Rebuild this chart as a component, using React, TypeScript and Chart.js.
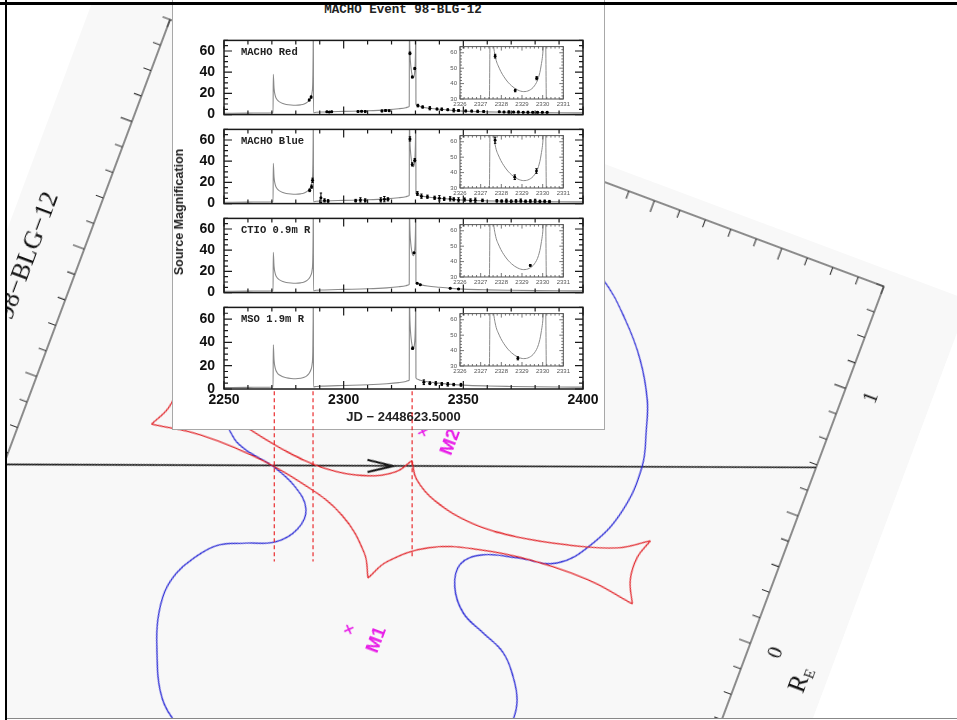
import React, { useEffect, useRef } from "react";
import { Chart, registerables } from "chart.js";

Chart.register(...registerables);

// ---------------- lens-plane data (units of R_E, binary frame) ----------------
const CAUSTIC_UPPER_RIGHT = [[0, 0.193], [0.04, 0.135], [0.13, 0.085], [0.29, 0.055], [0.46, 0.066], [0.643, 0.103], [0.819, 0.157], [0.924, 0.224]];
const CAUSTIC_OUTER_RIGHT = [[0.924, 0.224], [0.9, 0.15], [0.905, 0.064], [0.943, -0.016]];
const CAUSTIC_LOWER_RIGHT = [[0.943, -0.016], [0.76, 0.01], [0.55, 0.005], [0.34, -0.028], [0.17, -0.085], [0.045, -0.186], [0, -0.267]];
const CAUSTIC_LOWER_LEFT = [[0, -0.267], [-0.045, -0.186], [-0.17, -0.085], [-0.34, -0.028], [-0.55, 0.005], [-0.76, 0.01], [-0.943, -0.016]];
const CAUSTIC_OUTER_LEFT = [[-0.943, -0.016], [-0.905, 0.064], [-0.9, 0.15], [-0.924, 0.224]];
const CAUSTIC_UPPER_LEFT = [[-0.924, 0.224], [-0.819, 0.157], [-0.643, 0.103], [-0.46, 0.066], [-0.29, 0.055], [-0.13, 0.085], [-0.04, 0.135], [0, 0.193]];

const CRITICAL_CURVE = [
  [0, 1.16], [0.15, 1.15], [0.3, 1.115], [0.426, 1.062], [0.553, 0.953], [0.656, 0.834], [0.732, 0.705],
  [0.767, 0.601], [0.8, 0.469], [0.79, 0.296], [0.73, 0.143], [0.632, 0.028], [0.487, -0.006], [0.367, -0.039],
  [0.3, -0.1], [0.31, -0.186], [0.373, -0.265], [0.467, -0.308], [0.562, -0.351], [0.627, -0.421], [0.67, -0.495],
  [0.682, -0.569], [0.67, -0.68], [0.634, -0.786], [0.572, -0.92], [0.495, -1.0], [0.35, -1.07], [0.18, -1.105],
  [0, -1.115], [-0.18, -1.105], [-0.35, -1.07], [-0.495, -1.0], [-0.572, -0.92], [-0.634, -0.786], [-0.67, -0.68],
  [-0.682, -0.575], [-0.665, -0.495], [-0.63, -0.43], [-0.562, -0.35], [-0.467, -0.305], [-0.365, -0.262],
  [-0.306, -0.19], [-0.302, -0.11], [-0.372, -0.045], [-0.478, -0.003], [-0.567, 0.012], [-0.64, 0.04],
  [-0.73, 0.143], [-0.79, 0.296], [-0.8, 0.469], [-0.767, 0.601], [-0.732, 0.705], [-0.656, 0.834],
  [-0.553, 0.953], [-0.426, 1.062], [-0.3, 1.115], [-0.15, 1.15], [0, 1.16],
];

const TRAJECTORY = [[-1.4, -0.345], [1.4, 0.69]];
const ARROW_HEAD = [[-0.154, 0.139], [-0.057, 0.151], [-0.138, 0.097]];

const MASS_NAMES = ["M1", "M2"];
const MASS_X = [0, 0];
const MASS_Y = [-0.469, 0.307];

const LENS_TICK_LABELS = ["0", "1"];
const LENS_TICK_VALUES = [0, 1];

// ---------------- light-curve data ----------------
const MODEL_JD = [2250, 2260, 2266, 2270.5, 2270.6, 2270.9, 2271.4, 2272.2, 2273.2, 2274.6, 2276, 2278, 2280, 2282, 2283.5, 2284.7, 2285.6, 2286.3, 2286.8, 2287.1, 2287.25, 2287.32, 2287.4, 2288.5, 2292, 2300, 2310, 2318, 2323, 2326, 2327.0, 2327.4, 2327.48, 2327.6, 2327.7, 2327.9, 2328.2, 2328.5, 2328.8, 2329.08, 2329.35, 2329.6, 2329.8, 2329.93, 2330.03, 2330.12, 2330.2, 2330.6, 2332, 2335, 2340, 2345, 2350, 2360, 2370, 2380, 2390, 2400];
const MODEL_MAG = [1.3, 1.4, 1.5, 1.7, 38, 25, 18, 14, 12, 10.5, 9.6, 9, 8.8, 9.2, 10, 11.5, 13.5, 16.5, 21, 32, 60, 95, 1.8, 2.2, 2.5, 3, 3.6, 4.5, 5.5, 6.5, 7.2, 7.8, 95, 68, 58, 50, 43, 38.5, 35.8, 34.8, 35.6, 38.5, 44, 52, 64, 95, 9.8, 8.6, 7.5, 6.2, 5, 4, 3.3, 2.6, 2.2, 1.9, 1.7, 1.6];

const RED_JD = [2285.6, 2286.4, 2293.0, 2294.0, 2295.0, 2306.0, 2307.5, 2309.0, 2316.0, 2317.5, 2319.0, 2327.7, 2328.67, 2329.71, 2331.0, 2333.0, 2336.0, 2339.0, 2341.0, 2343.5, 2346.0, 2348.0, 2351.0, 2353.5, 2356.0, 2358.5, 2365.0, 2367.0, 2369.0, 2371.0, 2373.0, 2375.0, 2377.0, 2379.0, 2381.0, 2383.0, 2385.0];
const RED_MAG = [13.8, 16.5, 2.6, 2.4, 2.7, 3.0, 3.2, 3.0, 3.5, 3.8, 3.6, 57.8, 35.5, 43.5, 8.5, 7.2, 6.0, 5.3, 5.0, 4.6, 4.0, 3.9, 3.5, 3.3, 3.1, 3.0, 2.6, 2.5, 2.5, 2.4, 2.4, 2.3, 2.3, 2.2, 2.2, 2.2, 2.1];
const RED_ERR = [0.8, 1.0, 0.6, 0.5, 0.6, 0.7, 0.6, 0.6, 0.8, 0.8, 0.7, 1.2, 0.8, 1.0, 1.2, 1.0, 1.5, 0.8, 1.2, 0.8, 1.5, 0.9, 0.8, 0.8, 1.0, 0.8, 0.6, 0.6, 1.0, 0.6, 0.8, 0.6, 0.8, 0.6, 0.7, 0.6, 0.6];

const BLUE_JD = [2285.8, 2286.6, 2287.0, 2290.5, 2292.0, 2293.5, 2305.0, 2307.0, 2309.0, 2315.5, 2317.0, 2318.5, 2327.7, 2328.65, 2329.7, 2330.8, 2332.5, 2335.0, 2338.0, 2340.0, 2342.0, 2344.5, 2346.0, 2348.0, 2350.5, 2353.0, 2355.0, 2358.0, 2364.0, 2366.0, 2368.0, 2370.0, 2372.0, 2374.0, 2376.0, 2378.0, 2380.0, 2382.0, 2384.0, 2386.0];
const BLUE_MAG = [12.5, 16, 22, 5.5, 3.0, 2.5, 2.8, 3.5, 3.0, 3.5, 4.2, 4.0, 61, 37, 41, 9.5, 7.0, 6.5, 5.5, 5.0, 4.5, 4.5, 4.0, 3.5, 3.8, 3.0, 3.2, 3.0, 2.6, 2.4, 2.7, 2.3, 2.5, 2.8, 2.3, 2.4, 2.6, 2.2, 2.3, 2.0];
const BLUE_ERR = [1.2, 1.5, 2.0, 4.5, 1.5, 1.2, 1.2, 2.0, 1.5, 2.0, 2.5, 1.5, 2.0, 1.5, 1.5, 1.8, 2.0, 1.5, 1.5, 2.5, 1.5, 2.0, 1.5, 2.0, 1.5, 1.5, 2.0, 1.2, 1.2, 1.0, 1.5, 1.0, 1.2, 1.5, 1.0, 1.2, 1.5, 1.0, 1.0, 1.0];

const CTIO_JD = [2329.4, 2330.7, 2332.0, 2344.5, 2348.0];
const CTIO_MAG = [37.5, 8.8, 7.5, 4.0, 3.5];
const CTIO_ERR = [0.5, 0.4, 0.4, 0.4, 0.4];

const MSO_JD = [2328.8, 2333.5, 2336.0, 2338.5, 2341.0, 2343.5, 2346.0, 2349.0];
const MSO_MAG = [35.0, 5.8, 5.0, 4.8, 4.3, 4.0, 3.8, 3.6];
const MSO_ERR = [1.0, 2.0, 1.2, 1.5, 1.2, 1.5, 1.0, 1.2];

const PANEL_NAMES = ["MACHO Red", "MACHO Blue", "CTIO 0.9m R", "MSO 1.9m R"];
const PANEL_JD = [RED_JD, BLUE_JD, CTIO_JD, MSO_JD];
const PANEL_MAG = [RED_MAG, BLUE_MAG, CTIO_MAG, MSO_MAG];
const PANEL_ERR = [RED_ERR, BLUE_ERR, CTIO_ERR, MSO_ERR];

const DASH_JD = [2271.0, 2287.2, 2328.6];
const DASH_TOP = -2;
const DASH_BOTTOM = [-148, -148, -144];

const TITLE = "MACHO Event 98-BLG-12";
const X_TITLE = "JD \u2212 2448623.5000";
const Y_TITLE = "Source Magnification";
const EVENT_LABEL = "98\u2212BLG\u221212";

// ---------------- helpers ----------------
const pairsToPts = (pairs: number[][]) => pairs.map(([x, y]) => ({ x, y }));
const zipPts = (xs: number[], ys: number[]) => xs.map((x, i) => ({ x, y: ys[i] }));
const plainNum = (v: any) => String(v);

const frameTicks = {
  id: "frameTicks",
  afterDatasetsDraw(chart: any, _args: any, o: any) {
    if (!o || !o.show) return;
    const { ctx, chartArea: a } = chart;
    const xs = chart.scales.x;
    const ys = chart.scales.y;
    ctx.save();
    ctx.strokeStyle = o.color;
    ctx.lineWidth = o.frameWidth;
    ctx.strokeRect(a.left, a.top, a.right - a.left, a.bottom - a.top);
    ctx.lineWidth = o.tickWidth;
    ctx.beginPath();
    const isMajor = (v: number, m: number) => Math.abs(v / m - Math.round(v / m)) < 1e-6;
    let k0 = Math.ceil(xs.min / o.xMinor - 1e-6);
    let k1 = Math.floor(xs.max / o.xMinor + 1e-6);
    for (let k = k0; k <= k1; k++) {
      const v = k * o.xMinor;
      const p = xs.getPixelForValue(v);
      const L = isMajor(v, o.xMajor) ? o.majorLen : o.minorLen;
      if (o.top) { ctx.moveTo(p, a.top); ctx.lineTo(p, a.top + o.top * L); }
      if (o.bottom) { ctx.moveTo(p, a.bottom); ctx.lineTo(p, a.bottom - o.bottom * L); }
    }
    k0 = Math.ceil(ys.min / o.yMinor - 1e-6);
    k1 = Math.floor(ys.max / o.yMinor + 1e-6);
    for (let k = k0; k <= k1; k++) {
      const v = k * o.yMinor;
      const p = ys.getPixelForValue(v);
      const L = isMajor(v, o.yMajor) ? o.majorLen : o.minorLen;
      if (o.left) { ctx.moveTo(a.left, p); ctx.lineTo(a.left + o.left * L, p); }
      if (o.right) { ctx.moveTo(a.right, p); ctx.lineTo(a.right - o.right * L, p); }
    }
    ctx.stroke();
    ctx.restore();
  },
};

const textMarks = {
  id: "textMarks",
  afterDatasetsDraw(chart: any, _args: any, o: any) {
    if (!o || !o.items) return;
    const { ctx } = chart;
    const xs = chart.scales.x;
    const ys = chart.scales.y;
    for (const it of o.items) {
      const px = xs.getPixelForValue(it.x) + (it.dx || 0);
      const py = ys.getPixelForValue(it.y) + (it.dy || 0);
      ctx.save();
      ctx.translate(px, py);
      ctx.rotate(it.rot || 0);
      ctx.fillStyle = it.color || "#111";
      ctx.textBaseline = "middle";
      if (it.sub) {
        ctx.font = it.font;
        const w1 = ctx.measureText(it.text).width;
        ctx.font = it.subFont;
        const w2 = ctx.measureText(it.sub).width;
        const x0 = -(w1 + w2) / 2;
        ctx.textAlign = "left";
        ctx.font = it.font;
        ctx.fillText(it.text, x0, 0);
        ctx.font = it.subFont;
        ctx.fillText(it.sub, x0 + w1, it.subDy || 6);
      } else {
        ctx.font = it.font;
        ctx.textAlign = "center";
        ctx.fillText(it.text, 0, 0);
      }
      ctx.restore();
    }
  },
};

const errBars = {
  id: "errBars",
  afterDatasetsDraw(chart: any) {
    const { ctx, chartArea: a } = chart;
    const xs = chart.scales.x;
    const ys = chart.scales.y;
    ctx.save();
    ctx.beginPath();
    ctx.rect(a.left, a.top, a.right - a.left, a.bottom - a.top);
    ctx.clip();
    chart.data.datasets.forEach((ds: any) => {
      if (!ds.errors) return;
      ctx.strokeStyle = "#000";
      ctx.lineWidth = 1;
      ctx.beginPath();
      ds.data.forEach((pt: any, i: number) => {
        const e = ds.errors[i];
        const x = xs.getPixelForValue(pt.x);
        const y1 = ys.getPixelForValue(pt.y - e);
        const y2 = ys.getPixelForValue(pt.y + e);
        ctx.moveTo(x, y1); ctx.lineTo(x, y2);
        ctx.moveTo(x - 1.2, y1); ctx.lineTo(x + 1.2, y1);
        ctx.moveTo(x - 1.2, y2); ctx.lineTo(x + 1.2, y2);
      });
      ctx.stroke();
    });
    ctx.restore();
  },
};

const common = {
  responsive: false,
  maintainAspectRatio: false,
  animation: false,
  devicePixelRatio: 1,
  events: [],
};

const RED = "#e2262b";
const BLUE = "#2b2bd6";
const MAGENTA = "#e81ee8";
const CURVE = "#8a8a8a";

// ---------------- chart configs ----------------
function lensConfig(): any {
  const seg = (pairs: number[][]) => ({
    data: pairsToPts(pairs), showLine: true, borderColor: RED, borderWidth: 1.3,
    pointRadius: 0, tension: 0.4,
  });
  const serif = '"Liberation Serif", "DejaVu Serif", serif';
  const up = -Math.PI / 2;
  return {
    type: "scatter",
    data: {
      datasets: [
        seg(CAUSTIC_UPPER_RIGHT), seg(CAUSTIC_OUTER_RIGHT), seg(CAUSTIC_LOWER_RIGHT),
        seg(CAUSTIC_LOWER_LEFT), seg(CAUSTIC_OUTER_LEFT), seg(CAUSTIC_UPPER_LEFT),
        { data: pairsToPts(CRITICAL_CURVE), showLine: true, borderColor: BLUE, borderWidth: 1.3, pointRadius: 0, tension: 0.4 },
        { data: pairsToPts(TRAJECTORY), showLine: true, borderColor: "#1a1a1a", borderWidth: 1.6, pointRadius: 0 },
        { data: pairsToPts(ARROW_HEAD), showLine: true, borderColor: "#111", borderWidth: 2, pointRadius: 0 },
        { data: zipPts(MASS_X, MASS_Y), pointStyle: "crossRot", pointRadius: 5, borderColor: MAGENTA, pointBorderWidth: 1.6, borderWidth: 1.6 },
      ],
    },
    options: {
      ...common,
      layout: { padding: { left: 79, top: 17, right: 85, bottom: 81 } },
      scales: {
        x: { type: "linear", display: false, min: -1.4, max: 1.4 },
        y: { type: "linear", display: false, min: -1.4, max: 1.4 },
      },
      plugins: {
        legend: { display: false },
        tooltip: { enabled: false },
        frameTicks: {
          show: true, color: "#333", frameWidth: 1.1, tickWidth: 1.1,
          xMinor: 0.1, xMajor: 0.5, yMinor: 0.1, yMajor: 0.5, minorLen: 8, majorLen: 12,
          top: 1, bottom: 1, left: -1, right: 1,
        },
        textMarks: {
          items: [
            { text: EVENT_LABEL, x: -1.4, y: 0.405, dx: -50, rot: up, font: `26px ${serif}`, color: "#111" },
            ...LENS_TICK_LABELS.map((t, i) => ({ text: t, x: 1.4, y: LENS_TICK_VALUES[i], dx: 27, rot: up, font: `21px ${serif}`, color: "#111" })),
            { text: "R", sub: "E", subDy: 7, x: 1.4, y: -0.06, dx: 60, rot: up, font: `25px ${serif}`, subFont: `15px ${serif}`, color: "#111" },
            ...MASS_NAMES.map((t, i) => ({ text: t, x: MASS_X[i], y: MASS_Y[i], dx: 30, rot: up, font: 'bold 19px "Liberation Sans", Arial, sans-serif', color: MAGENTA })),
          ],
        },
      },
    },
    plugins: [frameTicks, textMarks],
  };
}

const sansBold = (size: number) => ({ family: '"Liberation Sans", Arial, sans-serif', size, weight: "bold" });

function lightConfig(i: number): any {
  const last = i === 3;
  const datasets: any[] = [
    { data: zipPts(PANEL_JD[i], PANEL_MAG[i]), errors: PANEL_ERR[i], pointRadius: 1.5, pointBackgroundColor: "#000", pointBorderWidth: 0, borderColor: "#000", order: 0 },
    { data: zipPts(MODEL_JD, MODEL_MAG), showLine: true, borderColor: CURVE, borderWidth: 1.1, pointRadius: 0, cubicInterpolationMode: "monotone", order: 2 },
  ];
  if (last) {
    DASH_JD.forEach((jd, k) => {
      datasets.push({
        data: [{ x: jd, y: DASH_TOP }, { x: jd, y: DASH_BOTTOM[k] }], showLine: true,
        borderColor: "#e8191c", borderWidth: 1.1, borderDash: [4, 3], pointRadius: 0, clip: false, order: 1,
      });
    });
  }
  return {
    type: "scatter",
    data: { datasets },
    options: {
      ...common,
      layout: { padding: { left: 0, right: 22, top: 10, bottom: last ? 150 : 10 } },
      scales: {
        x: {
          type: "linear", min: 2250, max: 2400, display: last,
          afterFit: (s: any) => { s.height = last ? 41 : 0; },
          grid: { display: false, drawTicks: false }, border: { display: false },
          ticks: { stepSize: 50, includeBounds: false, autoSkip: false, maxRotation: 0, minRotation: 0, padding: 3, color: "#111", font: sansBold(14), callback: plainNum },
          title: { display: true, text: X_TITLE, color: "#222", font: sansBold(13), padding: { top: 0, bottom: 5 } },
        },
        y: {
          type: "linear", min: 0, max: 70,
          afterFit: (s: any) => { s.width = 52; },
          grid: { display: false, drawTicks: false }, border: { display: false },
          ticks: { stepSize: 20, includeBounds: false, padding: 9, color: "#111", font: sansBold(14), callback: plainNum },
        },
      },
      plugins: {
        legend: { display: false },
        tooltip: { enabled: false },
        frameTicks: {
          show: true, color: "#1a1a1a", frameWidth: 1.5, tickWidth: 1.2,
          xMinor: 10, xMajor: 50, yMinor: 5, yMajor: 20, minorLen: 4, majorLen: 8,
          top: 1, bottom: 1, left: 1, right: 1,
        },
      },
    },
    plugins: [errBars, frameTicks],
  };
}

function zoomConfig(i: number): any {
  return {
    type: "scatter",
    data: {
      datasets: [
        { data: zipPts(PANEL_JD[i], PANEL_MAG[i]), errors: PANEL_ERR[i], pointRadius: 1.4, pointBackgroundColor: "#000", pointBorderWidth: 0, borderColor: "#000", order: 0 },
        { data: zipPts(MODEL_JD, MODEL_MAG), showLine: true, borderColor: CURVE, borderWidth: 1, pointRadius: 0, cubicInterpolationMode: "monotone", order: 1 },
      ],
    },
    options: {
      ...common,
      layout: { padding: { left: 0, right: 4, top: 5, bottom: 0 } },
      scales: {
        x: {
          type: "linear", min: 2326, max: 2331,
          afterFit: (s: any) => { s.height = 12; },
          grid: { display: false, drawTicks: false }, border: { display: false },
          ticks: { stepSize: 1, includeBounds: false, autoSkip: false, maxRotation: 0, minRotation: 0, padding: 2, color: "#555", font: { family: '"Liberation Sans", Arial, sans-serif', size: 6 }, callback: plainNum },
        },
        y: {
          type: "linear", min: 30, max: 64,
          afterFit: (s: any) => { s.width = 24; },
          grid: { display: false, drawTicks: false }, border: { display: false },
          ticks: { stepSize: 10, includeBounds: false, padding: 3, color: "#555", font: { family: '"Liberation Sans", Arial, sans-serif', size: 6 }, callback: plainNum },
        },
      },
      plugins: {
        legend: { display: false },
        tooltip: { enabled: false },
        frameTicks: {
          show: true, color: "#555", frameWidth: 1, tickWidth: 0.8,
          xMinor: 0.2, xMajor: 1, yMinor: 2, yMajor: 10, minorLen: 2, majorLen: 4,
          top: 1, bottom: 1, left: 1, right: 1,
        },
      },
    },
    plugins: [errBars, frameTicks],
  };
}

// ---------------- components ----------------
function ChartCanvas({ make, w, h, style }: any) {
  const ref = useRef<HTMLCanvasElement | null>(null);
  useEffect(() => {
    if (!ref.current) return;
    const chart = new Chart(ref.current, make());
    return () => chart.destroy();
  }, []);
  return (
    <canvas
      ref={ref}
      width={w}
      height={h}
      style={{ position: "absolute", display: "block", width: w, height: h, ...style }}
    />
  );
}

const PANEL_TOP = [33, 122, 211, 300];
const PANEL_H = 89;

export default function App() {
  const mono = '"Liberation Mono", "DejaVu Sans Mono", monospace';
  return (
    <div style={{ position: "absolute", left: 0, top: 0, width: 957, height: 720, overflow: "hidden", background: "#fff" }}>
      {/* rotated lens-plane map */}
      <div style={{ position: "absolute", left: 7, top: 5, width: 950, height: 713, overflow: "hidden" }}>
        <div style={{ position: "absolute", left: 95, top: -28.6, width: 926, height: 860, transform: "rotate(20.5deg)", transformOrigin: "0 0" }}>
          <ChartCanvas make={lensConfig} w={926} h={860} style={{ left: 0, top: 0, background: "#f8f8f8" }} />
        </div>
      </div>

      {/* light-curve inset */}
      <div style={{ position: "absolute", left: 172, top: -5, width: 433, height: 435, boxSizing: "border-box", background: "#fff", border: "1px solid #a8a8a8" }} />
      {PANEL_TOP.map((t, i) => (
        <ChartCanvas key={"p" + i} make={() => lightConfig(i)} w={433} h={i === 3 ? 10 + PANEL_H + 41 + 150 : PANEL_H + 20} style={{ left: 172, top: t - 10 }} />
      ))}
      {PANEL_TOP.map((t, i) => (
        <ChartCanvas key={"z" + i} make={() => zoomConfig(i)} w={136} h={71} style={{ left: 436, top: t + 12 - 5 }} />
      ))}
      {PANEL_TOP.map((t, i) => (
        <div key={"l" + i} style={{ position: "absolute", left: 241, top: t + 19 - 7, font: `bold 10.5px ${mono}`, color: "#222", whiteSpace: "nowrap", lineHeight: "14px" }}>
          {PANEL_NAMES[i]}
        </div>
      ))}
      <div style={{ position: "absolute", left: 403, top: 10, transform: "translate(-50%, -50%)", font: `bold 12.5px ${mono}`, color: "#222", whiteSpace: "nowrap" }}>
        {TITLE}
      </div>
      <div style={{ position: "absolute", left: 179, top: 212, transform: "translate(-50%, -50%) rotate(-90deg)", font: 'bold 12.5px "Liberation Sans", Arial, sans-serif', color: "#222", whiteSpace: "nowrap" }}>
        {Y_TITLE}
      </div>

      {/* outer frame */}
      <div style={{ position: "absolute", left: 0, top: 2, width: 957, height: 3, background: "#000" }} />
      <div style={{ position: "absolute", left: 5, top: 0, width: 2, height: 720, background: "#000" }} />
      <div style={{ position: "absolute", left: 7, top: 718, width: 950, height: 1, background: "#888" }} />
    </div>
  );
}
